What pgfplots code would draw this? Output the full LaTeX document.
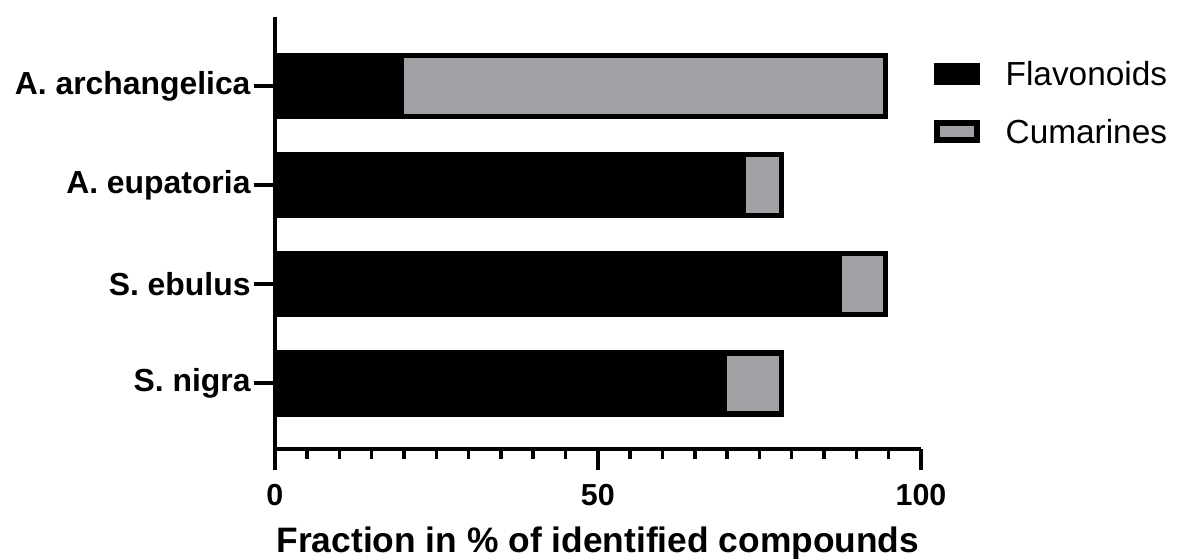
\documentclass[border=0pt]{standalone}
\usepackage{fontspec}
\setmainfont{Liberation Sans}
\usepackage{pgfplots}
\pgfplotsset{compat=1.18}
\definecolor{cumgray}{RGB}{161,160,165}
\begin{document}
\begin{tikzpicture}
\useasboundingbox (0,0) rectangle (1179bp,559bp);
\begin{axis}[
  at={(274.7bp,110bp)}, anchor=south west,
  scale only axis, width=646.3bp, height=432bp,
  xbar stacked, bar width=61bp,
  xmin=0, xmax=100, ymin=-0.663, ymax=3.696,
  axis lines*=left,
  axis line style={line width=4.2bp, black},
  every tick/.style={line width=4bp, black},
  every minor tick/.style={line width=3.5bp, black},
  tick align=outside,
  major tick length=21bp, minor tick length=10bp,
  xtick={0,50,100},
  minor xtick={5,10,15,20,25,30,35,40,45,55,60,65,70,75,80,85,90,95},
  ytick={0,1,2,3},
  yticklabels={S. nigra, S. ebulus, A. eupatoria, A. archangelica},
  /pgf/number format/assume math mode=true,
  xticklabel style={font=\bfseries\fontsize{30.5}{36}\selectfont, yshift=-11bp},
  yticklabel style={font=\bfseries\fontsize{32}{38}\selectfont, inner sep=0pt, xshift=-3bp},
  xlabel={Fraction in \% of identified compounds},
  xlabel style={font=\bfseries\fontsize{35.5}{42}\selectfont, yshift=-14bp},
  legend style={draw=none, fill=none, at={(1,1)}, anchor=north west,
    xshift=10bp, yshift=-40bp,
    font=\fontsize{33.5}{40}\selectfont, row sep=28bp,
    /tikz/every odd column/.append style={column sep=24bp}},
  legend cell align=left,
  legend image code/.code={\draw[#1] (0bp,-8.5bp) rectangle (40bp,8.5bp);},
]
\addplot[fill=black, draw=black, line width=5.5bp] coordinates {(69.5,0) (87.4,1) (72.5,2) (19.6,3)};
\addplot[fill=cumgray, draw=black, line width=5.5bp] coordinates {(8.9,0) (7.1,1) (5.9,2) (74.9,3)};
\legend{Flavonoids, Cumarines}
\end{axis}
\end{tikzpicture}
\end{document}
